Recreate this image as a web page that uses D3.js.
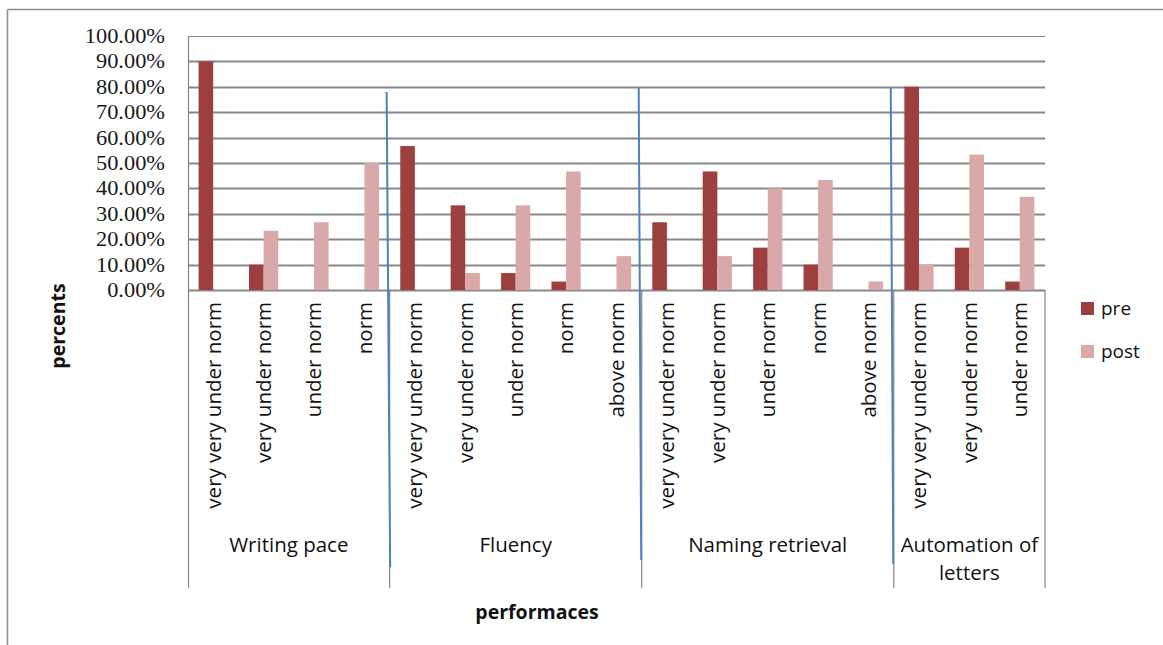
<!DOCTYPE html>
<html>
<head>
<meta charset="utf-8">
<script src="https://cdn.jsdelivr.net/npm/d3@7"></script>
<style>
  html, body { margin: 0; padding: 0; background: #fff; }
  svg { display: block; }
</style>
</head>
<body>
<svg id="chart" width="1163" height="645"></svg>
<script>
// Performance groups and the levels shown inside each group
const groups = ["Writing pace", "Fluency", "Naming retrieval", "Automation of letters"];
const groupLines = [["Writing pace"], ["Fluency"], ["Naming retrieval"], ["Automation of", "letters"]];
const levels = [
  ["very very under norm", "very under norm", "under norm", "norm"],
  ["very very under norm", "very under norm", "under norm", "norm", "above norm"],
  ["very very under norm", "very under norm", "under norm", "norm", "above norm"],
  ["very very under norm", "very under norm", "under norm"]
];
// Percent of pupils at each level, before and after
const preValues  = [0.90, 0.10, 0, 0,  0.5667, 0.3333, 0.0667, 0.0333, 0,  0.2667, 0.4667, 0.1667, 0.10, 0,  0.80, 0.1667, 0.0333];
const postValues = [0, 0.2333, 0.2667, 0.50,  0, 0.0667, 0.3333, 0.4667, 0.1333,  0, 0.1333, 0.40, 0.4333, 0.0333,  0.10, 0.5333, 0.3667];
const series = ["pre", "post"];
const yTicks = [0, 0.1, 0.2, 0.3, 0.4, 0.5, 0.6, 0.7, 0.8, 0.9, 1.0];

const colors = { pre: "#9e3f3f", post: "#d9a9a9" };
const gridColor = "#878787";
const labelFont = "'Open Sans', sans-serif";

// Flatten the two-level category axis
const cats = [];
levels.forEach((lv, g) => lv.forEach(name => cats.push({ g, name })));
const rows = cats.map((c, i) => ({ ...c, i, pre: preValues[i], post: postValues[i] }));

const svg = d3.select("#chart");
const plotLeft = 188, plotRight = 1045, plotTop = 36, plotBase = 290, axisBottom = 588;

const x = d3.scaleBand().domain(d3.range(cats.length)).range([plotLeft, plotRight]).padding(0);
const xs = d3.scaleBand().domain(series).range([0, x.bandwidth()]).paddingInner(0).paddingOuter(0.726);
const y = d3.scaleLinear().domain([0, 1]).range([plotBase, plotTop]);

// Outer chart frame (top and left edges)
svg.append("line").attr("x1", 7.5).attr("x2", 1163).attr("y1", 9.5).attr("y2", 9.5)
  .attr("stroke", "#8c8c8c").attr("stroke-width", 1.5);
svg.append("line").attr("x1", 7.5).attr("x2", 7.5).attr("y1", 9.5).attr("y2", 645)
  .attr("stroke", "#8c8c8c").attr("stroke-width", 1.5);

// Horizontal gridlines
svg.append("g").selectAll("line").data(yTicks).join("line")
  .attr("x1", plotLeft).attr("x2", plotRight)
  .attr("y1", d => Math.round(y(d)) + 0.5).attr("y2", d => Math.round(y(d)) + 0.5)
  .attr("stroke", gridColor).attr("stroke-width", d => (d === 1 ? 1 : 1.8));

// Y axis tick labels
const yAxis = d3.axisLeft(y).tickValues(yTicks).tickFormat(d => (d * 100).toFixed(2) + "%").tickSize(0).tickPadding(0);
const yg = svg.append("g").attr("transform", `translate(165,0)`).call(yAxis);
yg.select(".domain").remove();
yg.selectAll(".tick").each(function () {
  const t = d3.select(this);
  t.attr("transform", t.attr("transform") + " scale(1.12,1)");
});
yg.selectAll("text")
  .attr("font-family", "'Liberation Serif', 'Times New Roman', serif")
  .attr("font-size", 20).attr("fill", "#1a1a1a")
  .attr("dy", "0.32em");

// Bars
const barG = svg.append("g");
series.forEach(s => {
  barG.append("g").selectAll("rect").data(rows.filter(r => r[s] > 0)).join("rect")
    .attr("x", d => x(d.i) + xs(s))
    .attr("width", xs.bandwidth())
    .attr("y", d => y(d[s]))
    .attr("height", d => plotBase - y(d[s]))
    .attr("fill", colors[s]);
});

// Category axis frame: left axis line, group separators, right end
const groupStart = [];
let acc = 0;
levels.forEach(lv => { groupStart.push(acc); acc += lv.length; });
const bounds = groupStart.map(s => x(s)).concat([plotRight]);
svg.append("line").attr("x1", plotLeft + 0.5).attr("x2", plotLeft + 0.5).attr("y1", plotTop).attr("y2", axisBottom)
  .attr("stroke", gridColor).attr("stroke-width", 1.2);
svg.append("g").selectAll("line").data(bounds.slice(1)).join("line")
  .attr("x1", d => d).attr("x2", d => d).attr("y1", plotBase).attr("y2", axisBottom)
  .attr("stroke", gridColor).attr("stroke-width", 1.2);

// Level labels, rotated
svg.append("g").selectAll("text").data(rows).join("text")
  .attr("transform", d => `translate(${x(d.i) + x.bandwidth() / 2},302) rotate(-90)`)
  .attr("text-anchor", "end").attr("dy", "0.36em")
  .attr("font-family", labelFont).attr("font-size", 20.5).attr("fill", "#111")
  .text(d => d.name);

// Group labels
const gl = svg.append("g").selectAll("text").data(groupLines).join("text")
  .attr("x", (d, g) => (bounds[g] + bounds[g + 1]) / 2)
  .attr("y", 552)
  .attr("text-anchor", "middle")
  .attr("font-family", labelFont).attr("font-size", 20.5).attr("fill", "#111");
gl.selectAll("tspan").data(d => d).join("tspan")
  .attr("x", function () { return this.parentNode.getAttribute("x"); })
  .attr("dy", (d, i) => (i === 0 ? 0 : 28))
  .text(d => d);

// Blue separator strokes between groups
const sepOffsets = [
  { y1: 92, y2: 567, dxTop: -3, dxBottom: 0.5 },
  { y1: 88, y2: 560, dxTop: -3, dxBottom: -0.5 },
  { y1: 88, y2: 564, dxTop: -3, dxBottom: -0.5 }
];
svg.append("g").selectAll("line").data(sepOffsets).join("line")
  .attr("x1", (d, i) => bounds[i + 1] + d.dxTop)
  .attr("x2", (d, i) => bounds[i + 1] + d.dxBottom)
  .attr("y1", d => d.y1).attr("y2", d => d.y2)
  .attr("stroke", "#4f81bd").attr("stroke-width", 2);

// Axis titles
svg.append("text")
  .attr("transform", "translate(58,326) rotate(-90)")
  .attr("text-anchor", "middle").attr("dy", "0.35em")
  .attr("font-family", labelFont).attr("font-weight", "bold").attr("font-size", 19.5).attr("fill", "#111")
  .text("percents");
svg.append("text")
  .attr("x", 537).attr("y", 619)
  .attr("text-anchor", "middle")
  .attr("font-family", labelFont).attr("font-weight", "bold").attr("font-size", 19.5).attr("fill", "#111")
  .text("performaces");

// Legend
const legend = svg.append("g").attr("transform", "translate(1081,302)");
series.forEach((s, i) => {
  const row = legend.append("g").attr("transform", `translate(0,${i * 43})`);
  row.append("rect").attr("width", 13).attr("height", 13).attr("fill", colors[s]);
  row.append("text").attr("x", 20).attr("y", 13)
    .attr("font-family", labelFont).attr("font-size", 19).attr("fill", "#111")
    .text(s);
});
</script>
</body>
</html>
